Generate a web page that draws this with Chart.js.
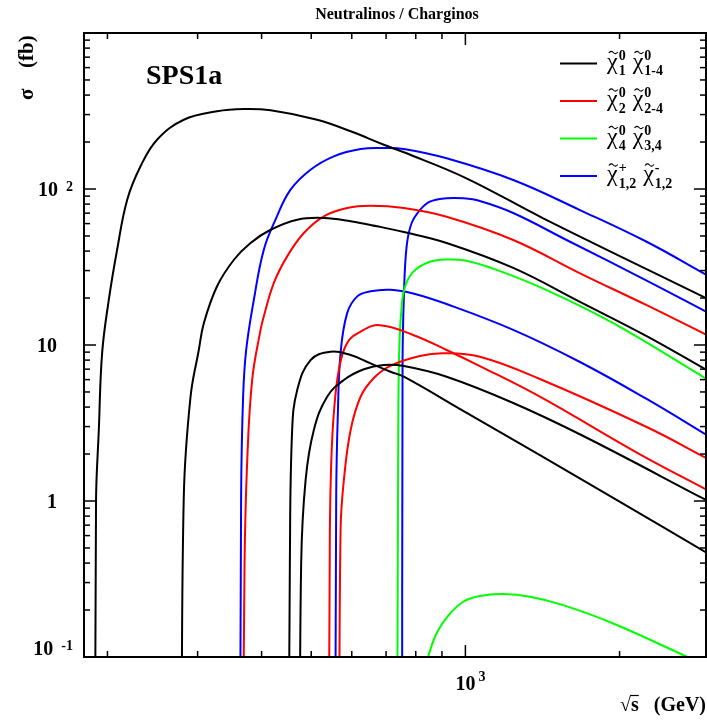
<!DOCTYPE html>
<html>
<head>
<meta charset="utf-8">
<script src="https://cdn.jsdelivr.net/npm/chart.js@4.4.1/dist/chart.umd.min.js"></script>
<style>
html, body { margin: 0; padding: 0; background: #fff; overflow: hidden; }
canvas { display: block; }
</style>
</head>
<body>
<canvas id="chartXsec" width="707" height="722"></canvas>
<script>
// sqrt(s) in GeV, sigma in fb
const sqrtS_n11 = [189.4, 190.0, 192.4, 195.3, 201.2, 208.9, 218.6, 232.1, 250.0, 281.9, 327.4, 369.3, 416.5, 513.4, 596.9, 693, 758.4, 1000, 1419, 2959];
const sigma_n11 = [0.01, 1, 2.85, 8.9, 19.4, 40.8, 85.4, 139.8, 207, 278, 315, 325.6, 319.5, 278, 234.4, 192.3, 172, 118, 64.9, 19.9];

const sqrtS_n12 = [279.0, 281.9, 290.6, 301.6, 308.5, 327.4, 353.2, 380.6, 416.5, 469.5, 529.2, 596.9, 672.4, 758.4, 919, 1240, 1674, 2259, 2959];
const sigma_n12 = [0.01, 1.06, 4.66, 9.29, 13.8, 23.8, 35.2, 45.1, 54.8, 63.6, 65.2, 62.1, 57.7, 53, 45.1, 31.2, 18.9, 11.4, 6.91];

const sqrtS_n13 = [451.8, 454.2, 458.9, 469.5, 498.5, 545.4, 596.9, 652.9, 714.2, 758.4, 1000, 1398, 2000, 2959];
const sigma_n13 = [0.01, 0.399, 2.85, 5.15, 8.01, 9.06, 8.63, 7.63, 6.74, 6.26, 3.71, 1.97, 0.99, 0.466];

const sqrtS_n14 = [474.8, 477.9, 487.5, 505.9, 537.1, 579, 633.6, 693, 758.4, 919, 1240, 1699, 2959];
const sigma_n14 = [0.01, 0.399, 1.36, 2.85, 4.66, 5.97, 6.99, 7.44, 7.33, 6.26, 4.25, 2.61, 1.01];

const sqrtS_n22 = [367.6, 370.5, 374.8, 383.4, 398.1, 404, 422.7, 448.7, 483.7, 529.2, 587.7, 652.9, 758.4, 919, 1240, 1674, 2259, 2959];
const sigma_n22 = [0.01, 0.40, 1.75, 5.97, 12.5, 15.3, 25, 37, 52.2, 66.8, 75.5, 78.1, 75.5, 66.4, 47.1, 28.8, 18.0, 11.6];

const sqrtS_n23 = [541.0, 543.7, 547, 553.5, 566.1, 587.7, 624.3, 680.8, 790.7, 919, 1067, 1398, 2192, 2959];
const sigma_n23 = [0.01, 0.652, 1.74, 3.65, 6.91, 10.3, 12.2, 13.4, 11.6, 9.29, 7.33, 4.66, 1.99, 1.18];

const sqrtS_n24 = [566.6, 570.5, 579, 596.9, 624.3, 662.6, 711.9, 815.1, 904.9, 1067, 1398, 2259, 2959];
const sigma_n24 = [0.01, 0.652, 1.36, 2.85, 4.66, 6.14, 7.33, 8.5, 8.85, 8.41, 6.05, 2.98, 1.88];

const sqrtS_n34 = [735.8, 739.4, 742.7, 749.9, 761.8, 790.7, 845, 919, 1005, 1151, 1441, 1944, 2959];
const sigma_n34 = [0.01, 2.85, 9.29, 16.8, 23.5, 29.4, 33.8, 35.3, 34.7, 30.3, 22.5, 13.8, 6.05];

const sqrtS_n44 = [807.8, 846, 878.6, 924.4, 990.1, 1067, 1185, 1337, 1552, 1944, 2714, 2959];
const sigma_n44 = [0.06, 0.1005, 0.142, 0.183, 0.226, 0.246, 0.253, 0.2435, 0.215, 0.164, 0.1, 0.0875];

const sqrtS_c11 = [363.3, 364.8, 368.1, 373.2, 386.3, 404.0, 425.8, 455.6, 498.5, 553.5, 624.3, 693, 758.4, 919, 1240, 1674, 2259, 2959];
const sigma_c11 = [0.01, 1.07, 4.66, 9.29, 19.5, 40.8, 63.6, 99, 133, 162, 180.5, 183.2, 180.5, 157.3, 114.2, 73.3, 45.9, 28.1];

const sqrtS_c12 = [557.2, 559.4, 563.6, 570.5, 587.7, 614.9, 652.9, 714.2, 790.7, 919, 1240, 1674, 2259, 2959];
const sigma_c12 = [0.01, 1.07, 3.65, 8.89, 16.0, 20.5, 22.1, 22.6, 21.4, 18.3, 12.5, 7.78, 4.51, 2.65];

const sqrtS_c22 = [752.5, 753.9, 758.4, 767.7, 785.1, 815.1, 852.5, 919, 990.1, 1067, 1240, 1576, 2259, 2959];
const sigma_c22 = [0.01, 7.63, 20.4, 42.7, 60.3, 73.3, 82.9, 87.2, 87.2, 83.8, 70.2, 47.1, 25.9, 16.3];

// axis ticks and labels
const xMinorTicks = [200, 300, 400, 500, 600, 700, 800, 900, 2000];
const xMajorTicks = [1000];
const xTickText = ['10'];
const xTickExp = ['3'];
const yMajorTicks = [0.1, 1, 10, 100];
const yTickText = ['10', '1', '10', '10'];
const yTickExp = ['-1', '', '', '2'];

// legend
const legendColors = ['#000000', '#ff0000', '#00ff00', '#0000ff'];
const legendSup1 = ['0', '0', '0', '+'];
const legendSub1 = ['1', '2', '4', '1,2'];
const legendSup2 = ['0', '0', '0', '-'];
const legendSub2 = ['1-4', '2-4', '3,4', '1,2'];

function makeSet(xs, ys, color) {
    return {
        data: xs.map((x, i) => ({ x: x, y: ys[i] })),
        borderColor: color,
        borderWidth: 2,
        pointRadius: 0,
        fill: false,
        tension: 0.4
    };
}

function drawChi(ctx, x, base, sup, sub) {
    ctx.font = '24px "Liberation Serif"';
    ctx.textAlign = 'left';
    ctx.fillText('χ', x, base);
    const w = ctx.measureText('χ').width;
    // tilde over chi
    const cx = x + w / 2 + 1, ty = base - 16;
    ctx.lineWidth = 1.1;
    ctx.beginPath();
    ctx.moveTo(cx - 4.5, ty + 0.5);
    ctx.quadraticCurveTo(cx - 2.2, ty - 2.5, cx, ty);
    ctx.quadraticCurveTo(cx + 2.2, ty + 2.5, cx + 4.5, ty - 0.5);
    ctx.stroke();
    ctx.font = 'bold 14px "Liberation Serif"';
    const sx = x + w + 1;
    ctx.fillText(sup, sx, base - 9);
    ctx.fillText(sub, sx, base + 6.5);
    return sx + Math.max(ctx.measureText(sup).width, ctx.measureText(sub).width);
}

const decoPlugin = {
    id: 'deco',
    afterDatasetsDraw(chart) {
        const ctx = chart.ctx;
        const a = chart.chartArea;
        const xs = chart.scales.x, ys = chart.scales.y;
        ctx.save();
        ctx.strokeStyle = '#000';
        ctx.fillStyle = '#000';

        const seg = (x1, y1, x2, y2) => {
            ctx.beginPath();
            ctx.moveTo(x1, y1);
            ctx.lineTo(x2, y2);
            ctx.stroke();
        };

        // frame
        ctx.lineWidth = 2;
        ctx.strokeRect(a.left, a.top, a.right - a.left, a.bottom - a.top);

        // y ticks (both sides)
        ctx.lineWidth = 1.5;
        for (let k = -1; k < 3; k++) {
            for (let m = 1; m < 10; m++) {
                const py = ys.getPixelForValue(m * Math.pow(10, k));
                const len = m === 1 ? 12 : 6;
                seg(a.left, py, a.left + len, py);
                seg(a.right, py, a.right - len, py);
            }
        }
        // x ticks (bottom and top)
        xMinorTicks.forEach(v => {
            const px = xs.getPixelForValue(v);
            seg(px, a.bottom, px, a.bottom - 6);
            seg(px, a.top, px, a.top + 6);
        });
        xMajorTicks.forEach(v => {
            const px = xs.getPixelForValue(v);
            seg(px, a.bottom, px, a.bottom - 12);
            seg(px, a.top, px, a.top + 12);
        });

        // y labels
        ctx.textAlign = 'right';
        yMajorTicks.forEach((v, i) => {
            const base = Math.min(ys.getPixelForValue(v) + 7, 655);
            if (yTickExp[i]) {
                ctx.font = 'bold 14px "Liberation Serif"';
                ctx.fillText(yTickExp[i], 73, base - 5);
                const ew = ctx.measureText(yTickExp[i]).width;
                ctx.font = 'bold 20px "Liberation Serif"';
                ctx.fillText(yTickText[i], 73 - ew - 8, base);
            } else {
                ctx.font = 'bold 20px "Liberation Serif"';
                ctx.fillText(yTickText[i], 57, base);
            }
        });

        // x labels
        xMajorTicks.forEach((v, i) => {
            const px = xs.getPixelForValue(v);
            ctx.font = 'bold 20px "Liberation Serif"';
            ctx.textAlign = 'center';
            ctx.fillText(xTickText[i], px, 690);
            const tw = ctx.measureText(xTickText[i]).width;
            ctx.font = 'bold 14px "Liberation Serif"';
            ctx.textAlign = 'left';
            ctx.fillText(xTickExp[i], px + tw / 2 + 3, 681);
        });

        // axis titles
        ctx.font = 'bold 20px "Liberation Serif"';
        ctx.textAlign = 'right';
        const xTitle = '√s   (GeV)';
        ctx.fillText(xTitle, 706, 711);
        const startX = 706 - ctx.measureText(xTitle).width;
        const wRoot = ctx.measureText('√').width;
        const wS = ctx.measureText('s').width;
        ctx.lineWidth = 1.2;
        seg(startX + wRoot - 1, 695.5, startX + wRoot + wS, 695.5);

        ctx.save();
        ctx.translate(33, 100);
        ctx.rotate(-Math.PI / 2);
        ctx.textAlign = 'left';
        ctx.font = 'bold 21px "Liberation Serif"';
        ctx.fillText('σ', 0, 0);
        ctx.fillText('(fb)', 32, 0);
        ctx.restore();

        // title
        ctx.font = 'bold 16px "Liberation Serif"';
        ctx.textAlign = 'center';
        ctx.fillText('Neutralinos / Charginos', 397, 19);

        // SPS1a
        ctx.font = 'bold 28px "Liberation Serif"';
        ctx.textAlign = 'left';
        ctx.fillText('SPS1a', 146, 84);

        // legend
        legendColors.forEach((c, i) => {
            const ly = 63.5 + i * 37.5;
            ctx.strokeStyle = c;
            ctx.lineWidth = 2;
            seg(560, ly, 597, ly);
            ctx.strokeStyle = '#000';
            const end = drawChi(ctx, 607, ly + 5, legendSup1[i], legendSub1[i]);
            drawChi(ctx, end + 7, ly + 5, legendSup2[i], legendSub2[i]);
        });

        ctx.restore();
    }
};

const ctx = document.getElementById('chartXsec').getContext('2d');
const chart = new Chart(ctx, {
    type: 'line',
    data: {
        datasets: [
            makeSet(sqrtS_n11, sigma_n11, '#000000'),
            makeSet(sqrtS_n12, sigma_n12, '#000000'),
            makeSet(sqrtS_n13, sigma_n13, '#000000'),
            makeSet(sqrtS_n14, sigma_n14, '#000000'),
            makeSet(sqrtS_n22, sigma_n22, '#ff0000'),
            makeSet(sqrtS_n23, sigma_n23, '#ff0000'),
            makeSet(sqrtS_n24, sigma_n24, '#ff0000'),
            makeSet(sqrtS_n34, sigma_n34, '#00ff00'),
            makeSet(sqrtS_n44, sigma_n44, '#00ff00'),
            makeSet(sqrtS_c11, sigma_c11, '#0000ff'),
            makeSet(sqrtS_c12, sigma_c12, '#0000ff'),
            makeSet(sqrtS_c22, sigma_c22, '#0000ff')
        ]
    },
    options: {
        responsive: false,
        devicePixelRatio: 1,
        animation: false,
        elements: { line: { capBezierPoints: false } },
        layout: { padding: { left: 84, top: 33, right: 1, bottom: 65 } },
        scales: {
            x: { type: 'logarithmic', min: 180, max: 2950, display: false },
            y: { type: 'logarithmic', min: 0.1, max: 1000, display: false }
        },
        plugins: {
            legend: { display: false },
            title: { display: false },
            tooltip: { enabled: false }
        }
    },
    plugins: [decoPlugin]
});
</script>
</body>
</html>
